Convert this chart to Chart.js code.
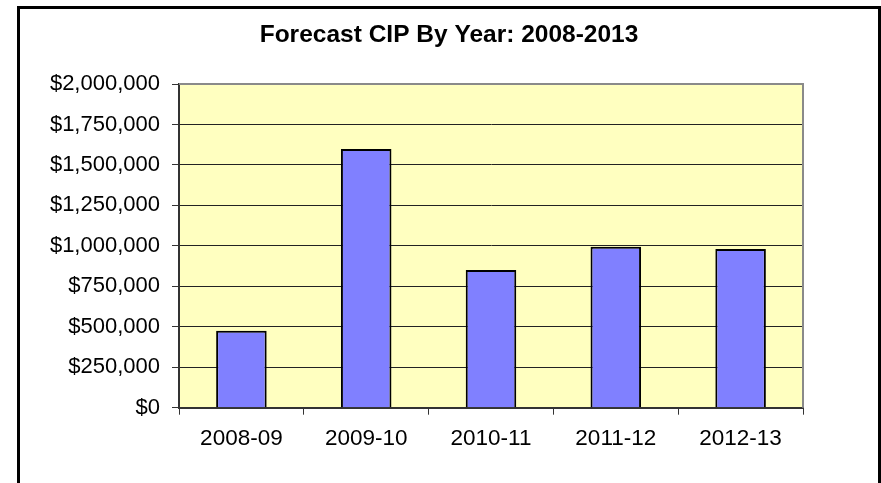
<!DOCTYPE html>
<html>
<head>
<meta charset="utf-8">
<title>Forecast CIP By Year</title>
<script src="https://cdn.jsdelivr.net/npm/chart.js@4/dist/chart.umd.min.js"></script>
<style>
  html, body { margin: 0; padding: 0; background: #fff; overflow: hidden; }
  #wrap { position: relative; width: 881px; height: 483px; }
  #cipChart { position: absolute; left: 0; top: 0; }
  #frame {
    position: absolute; left: 17px; top: 6px; width: 864px; height: 520px;
    box-sizing: border-box; border: 3px solid #000; pointer-events: none;
  }
</style>
</head>
<body>
<div id="wrap">
  <canvas id="cipChart" width="881" height="483"></canvas>
  <div id="frame"></div>
</div>
<script>
// Chart data
const years = ["2008-09", "2009-10", "2010-11", "2011-12", "2012-13"];
const cipAmounts = [476000, 1598000, 851000, 995000, 980000];
const yTicks = [0, 250000, 500000, 750000, 1000000, 1250000, 1500000, 1750000, 2000000];

const fontFamily = "'Liberation Sans', Arial, sans-serif";

// Yellow plot background and grey plot border, like the Excel chart
const plotArea = {
  id: "plotArea",
  beforeDraw(chart) {
    const { ctx, chartArea } = chart;
    ctx.save();
    ctx.fillStyle = "#ffffc0";
    ctx.fillRect(chartArea.left, chartArea.top, chartArea.width, chartArea.height);
    ctx.restore();
  },
  afterDraw(chart) {
    const { ctx, chartArea } = chart;
    ctx.save();
    ctx.strokeStyle = "#8a8a8a";
    ctx.lineWidth = 2;
    ctx.beginPath();
    ctx.moveTo(chartArea.left, chartArea.top);
    ctx.lineTo(chartArea.right, chartArea.top);
    ctx.lineTo(chartArea.right, chartArea.bottom);
    ctx.stroke();
    ctx.restore();
  },
};

const ctx = document.getElementById("cipChart").getContext("2d");

new Chart(ctx, {
  type: "bar",
  data: {
    labels: years,
    datasets: [
      {
        label: "Forecast CIP",
        data: cipAmounts,
        backgroundColor: "#8080ff",
        borderColor: "#000",
        borderWidth: 2,
        categoryPercentage: 1,
        barPercentage: 0.405,
      },
    ],
  },
  options: {
    responsive: false,
    animation: false,
    layout: { padding: { left: 17, right: 0, top: 0, bottom: 0 } },
    scales: {
      x: {
        afterFit: function (scale) {
          scale.height = 75.3;
        },
        grid: {
          display: true,
          drawOnChartArea: false,
          offset: true,
          tickLength: 7,
          tickColor: "#333",
          lineWidth: 1,
        },
        border: { display: true, color: "#333", width: 2 },
        ticks: {
          color: "#000",
          padding: 11,
          font: { family: fontFamily, size: 22.5 },
        },
      },
      y: {
        min: 0,
        max: 2000000,
        afterFit: function (scale) {
          scale.width = 162;
        },
        afterBuildTicks: function (scale) {
          scale.ticks = yTicks.map((v) => ({ value: v }));
        },
        grid: {
          color: "#222",
          lineWidth: 1,
          tickLength: 7,
          tickColor: "#333",
        },
        border: { display: true, color: "#333", width: 2 },
        ticks: {
          color: "#000",
          padding: 12,
          font: { family: fontFamily, size: 22 },
          callback: function (value) {
            return "$" + Number(value).toLocaleString("en-US");
          },
        },
      },
      // empty right-hand axis so the title centres on the whole chart box
      yRight: {
        position: "right",
        display: true,
        afterFit: function (scale) {
          scale.width = 78;
        },
        grid: { display: false },
        border: { display: false },
        ticks: { display: false },
      },
    },
    plugins: {
      legend: { display: false },
      tooltip: { enabled: false },
      title: {
        display: true,
        text: "Forecast CIP By Year: 2008-2013",
        color: "#000",
        font: { family: fontFamily, size: 24.5, weight: "bold", lineHeight: 1.2 },
        padding: { top: 20.3, bottom: 34.3 },
      },
    },
  },
  plugins: [plotArea],
});
</script>
</body>
</html>
